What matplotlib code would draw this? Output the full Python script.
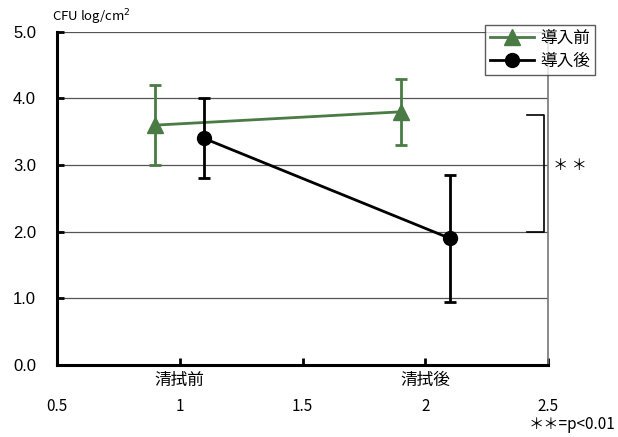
import matplotlib
matplotlib.use("Agg")
import matplotlib.pyplot as plt
from matplotlib.lines import Line2D

plt.rcParams['font.family'] = ['Noto Sans CJK JP', 'DejaVu Sans']

# CFU (log/cm2) before / after wiping
x_before = [0.9, 1.9]
y_before = [3.6, 3.8]
err_before = [0.6, 0.5]
x_after = [1.1, 2.1]
y_after = [3.4, 1.9]
err_after = [0.6, 0.95]
series_labels = ['導入前', '導入後']
cat_pos = [1, 2]
cat_labels = ['清拭前', '清拭後']
xticks = [0.5, 1, 1.5, 2, 2.5]
yticks = [0.0, 1.0, 2.0, 3.0, 4.0, 5.0]
sig_range = [2.0, 3.75]

green = '#4a7b45'

fig = plt.figure(figsize=(6.18, 4.37), dpi=100)
ax = fig.add_axes([0.092, 0.165, 0.795, 0.762])

for y in yticks[1:]:
    ax.axhline(y, color='#555555', lw=0.9, zorder=0)

ax.errorbar(x_before, y_before, yerr=err_before, color=green, marker='^',
            ms=11, lw=2, elinewidth=2, capsize=4, capthick=2, zorder=3)
ax.errorbar(x_after, y_after, yerr=err_after, color='black', marker='o',
            ms=10, lw=2, elinewidth=2, capsize=4, capthick=2, zorder=4)

ax.set_xlim(0.5, 2.5)
ax.set_ylim(0, 5)
ax.set_xticks(xticks)
ax.set_xticklabels(['0.5', '1', '1.5', '2', '2.5'], fontsize=11)
ax.set_yticks(yticks)
ax.set_yticklabels([f'{v:.1f}' for v in yticks], fontsize=12,
                   family='Liberation Sans')
ax.tick_params(axis='both', direction='in', length=5, width=2)
ax.tick_params(axis='x', pad=24)
ax.tick_params(axis='y', pad=15)
for s in ['left', 'bottom']:
    ax.spines[s].set_linewidth(2.2)
ax.spines['top'].set_visible(False)
ax.spines['right'].set_color('#777777')
ax.spines['right'].set_linewidth(1.2)

for xp, lab in zip(cat_pos, cat_labels):
    ax.text(xp, -0.02, lab, ha='center', va='top', fontsize=12,
            transform=ax.get_xaxis_transform())

ax.text(-0.01, 1.015, 'CFU log/cm$^2$', transform=ax.transAxes,
        ha='left', va='bottom', fontsize=9.5)

# significance bracket
bx = 2.485
ax.plot([bx - 0.07, bx, bx, bx - 0.07],
        [sig_range[1], sig_range[1], sig_range[0], sig_range[0]],
        color='black', lw=1.2, clip_on=False, zorder=5)
ax.text(2.59, 3.0, '＊ ＊', ha='center', va='center', fontsize=11,
        clip_on=False)
fig.text(0.995, 0.01, '＊＊=p<0.01', ha='right', va='bottom', fontsize=11)

handles = [Line2D([], [], color=green, marker='^', ms=11, lw=2),
           Line2D([], [], color='black', marker='o', ms=10, lw=2)]
leg = fig.legend(handles, series_labels, loc='upper right',
                 bbox_to_anchor=(0.963, 0.943), fontsize=12, frameon=True,
                 fancybox=False, edgecolor='#333333', handlelength=2.6,
                 borderpad=0.3, labelspacing=0.35, handletextpad=0.4,
                 borderaxespad=0)
leg.get_frame().set_linewidth(1)

fig.savefig('out.png', dpi=100)
